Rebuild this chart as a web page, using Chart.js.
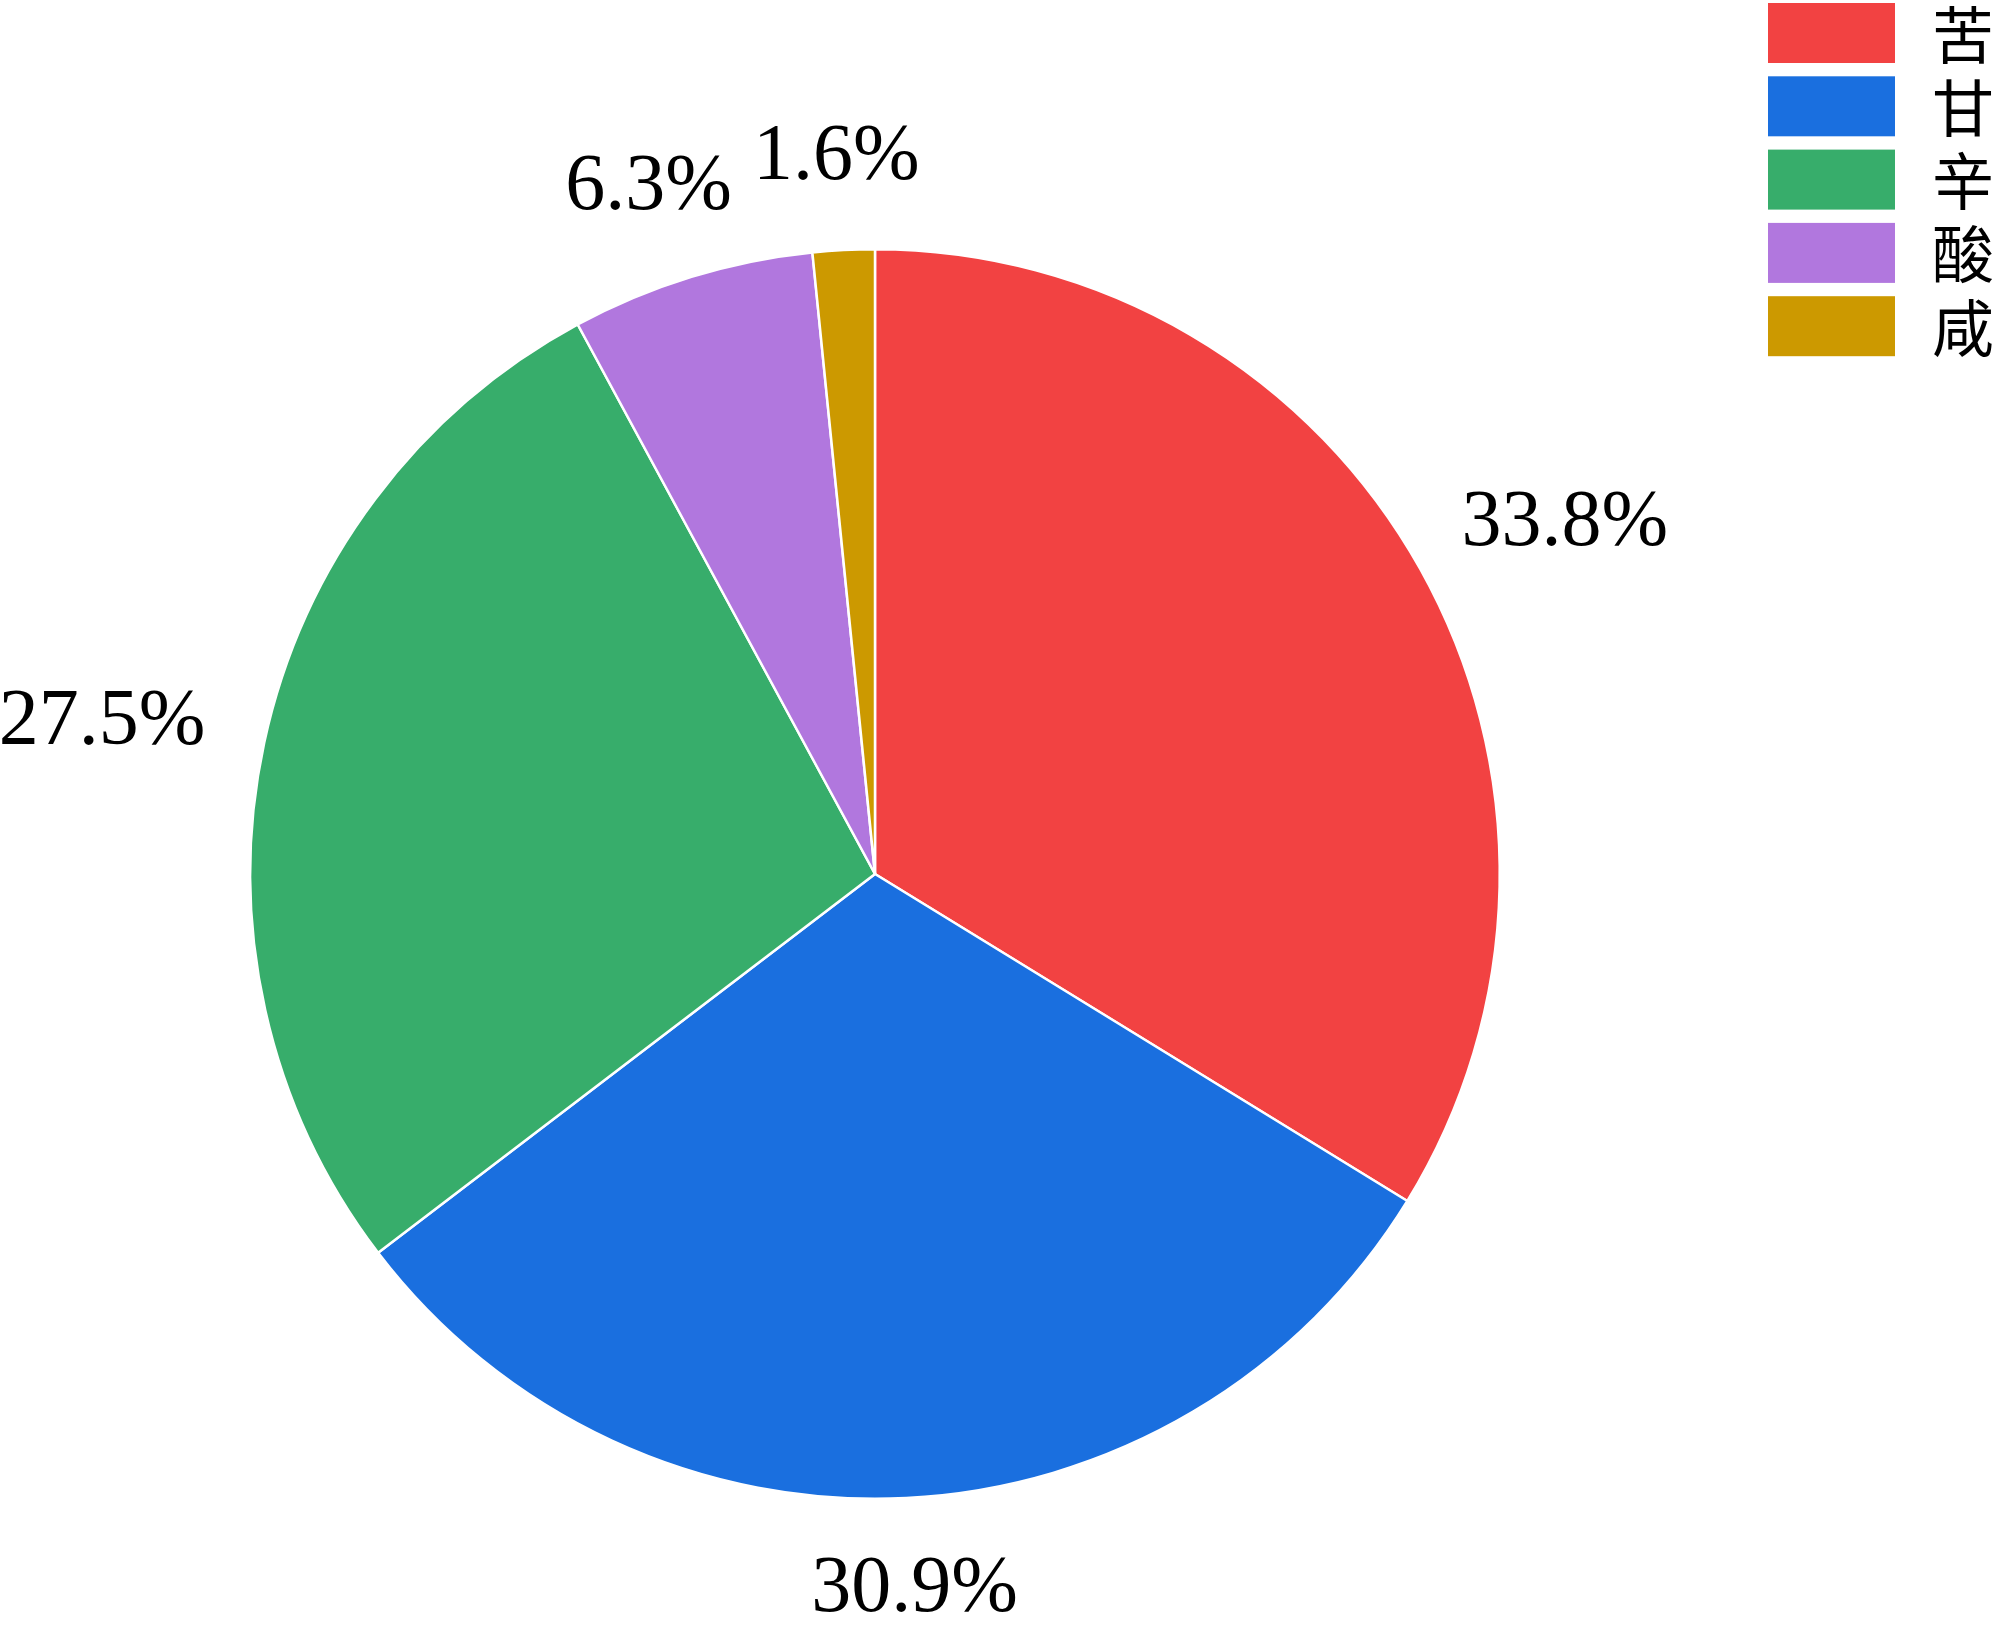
<!DOCTYPE html>
<html>
<head>
<meta charset="utf-8">
<script src="https://cdn.jsdelivr.net/npm/chart.js@4.4.0/dist/chart.umd.min.js"></script>
<style>
  html, body { margin: 0; padding: 0; background: #fff; }
  #wrap { width: 2000px; height: 1632px; }
</style>
</head>
<body>
<div id="wrap"><canvas id="pie" width="2000" height="1632"></canvas></div>
<script>
// ---------- data ----------
const tastes = ['苦', '甘', '辛', '酸', '咸'];
const shares = [33.8, 30.9, 27.5, 6.3, 1.6];
const sliceColors = ['#F24242', '#1A6FDF', '#37AD6B', '#B177DE', '#CC9900'];

// ---------- outside percent labels ----------
const pctLabels = {
  id: 'pctLabels',
  afterDatasetsDraw(chart) {
    const ctx = chart.ctx;
    const meta = chart.getDatasetMeta(0);
    ctx.save();
    ctx.font = '80px "Liberation Serif", "DejaVu Serif", serif';
    ctx.fillStyle = '#000';
    ctx.textAlign = 'center';
    ctx.textBaseline = 'middle';
    meta.data.forEach((arc, i) => {
      const p = arc.getProps(['x', 'y', 'startAngle', 'endAngle', 'outerRadius'], true);
      const mid = (p.startAngle + p.endAngle) / 2;
      const dx = Math.cos(mid), dy = Math.sin(mid);
      const text = shares[i].toFixed(1) + '%';
      const w = ctx.measureText(text).width;
      const h = 60;
      const r = p.outerRadius * 1.1;
      const tx = p.x + dx * r + dx * w / 2;
      const ty = p.y + dy * r + dy * h / 2;
      ctx.fillText(text, tx, ty);
    });
    ctx.restore();
  }
};

// ---------- legend (top right) ----------
const sideLegend = {
  id: 'sideLegend',
  afterDraw(chart) {
    const ctx = chart.ctx;
    const ds = chart.data.datasets[0];
    ctx.save();
    ctx.font = '62px "Noto Sans CJK SC", sans-serif';
    ctx.textAlign = 'left';
    ctx.textBaseline = 'middle';
    chart.data.labels.forEach((lab, i) => {
      const y = 3 + i * 73.3;
      ctx.fillStyle = ds.backgroundColor[i];
      ctx.fillRect(1768, y, 127, 60);
      ctx.fillStyle = '#000';
      ctx.fillText(lab, 1932, y + 32);
    });
    ctx.restore();
  }
};

new Chart(document.getElementById('pie').getContext('2d'), {
  type: 'pie',
  data: {
    labels: tastes,
    datasets: [{
      data: shares,
      backgroundColor: sliceColors,
      borderColor: '#fff',
      borderWidth: 2.5
    }]
  },
  options: {
    responsive: false,
    animation: false,
    layout: { padding: { left: 249, right: 499, top: 248, bottom: 132 } },
    plugins: {
      legend: { display: false },
      tooltip: { enabled: false }
    }
  },
  plugins: [pctLabels, sideLegend]
});
</script>
</body>
</html>
